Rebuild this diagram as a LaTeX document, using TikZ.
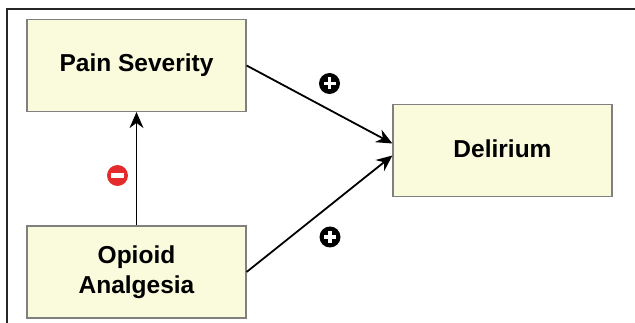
\documentclass[tikz,border=0pt]{standalone}
\usepackage{fontspec}
\setmainfont{Liberation Sans}
\usetikzlibrary{arrows.meta, positioning}
\definecolor{boxfill}{HTML}{FAFADC}
\definecolor{boxline}{HTML}{808080}
\definecolor{negred}{HTML}{E32B2B}

\begin{document}
\begin{tikzpicture}[
  x=1pt, y=-1pt,
  every node/.style={font=\fontsize{24.5}{30}\selectfont\bfseries},
  factorbox/.style={rectangle, draw=boxline, fill=boxfill, line width=1.2pt, minimum width=219pt, minimum height=92pt, align=center, inner sep=0pt},
  effect/.style={-{Stealth[length=16pt, width=14pt]}, line width=1.8pt},
  plusmark/.style={circle, fill=black, minimum size=21pt, inner sep=0pt,
    path picture={\draw[white, line width=3.5pt] ([xshift=-6pt]path picture bounding box.center) -- ([xshift=6pt]path picture bounding box.center) ([yshift=-6pt]path picture bounding box.center) -- ([yshift=6pt]path picture bounding box.center);}},
  minusmark/.style={circle, fill=negred, minimum size=21pt, inner sep=0pt,
    path picture={\fill[white] ([xshift=-6.5pt, yshift=-2.2pt]path picture bounding box.center) rectangle ([xshift=6.5pt, yshift=2.2pt]path picture bounding box.center);}},
]
\useasboundingbox (0,0) rectangle (635,323);

% Frame
\draw[line width=1.4pt, black!85] (7,323) -- (7,9) -- (635,9);

\node[factorbox] (pain) at (136.5, 65.5) {\raisebox{1.5pt}{Pain Severity}};
\node[factorbox] (opioid) at (136.5, 272) {Opioid\\Analgesia};
\node[factorbox] (delirium) at (502.5, 150.5) {\raisebox{4pt}{Delirium}};

% Effects
\draw[effect] (opioid) -- (pain);
\draw[effect] (pain.east) -- ([yshift=7pt]delirium.west);
\draw[effect] (opioid.east) -- ([yshift=-5pt]delirium.west);

% Signs
\node[minusmark] (neg) at (117.5, 175.5) {};
\node[plusmark] (posa) at (329.5, 83.5) {};
\node[plusmark] (posb) at (330, 237) {};

\end{tikzpicture}
\end{document}
